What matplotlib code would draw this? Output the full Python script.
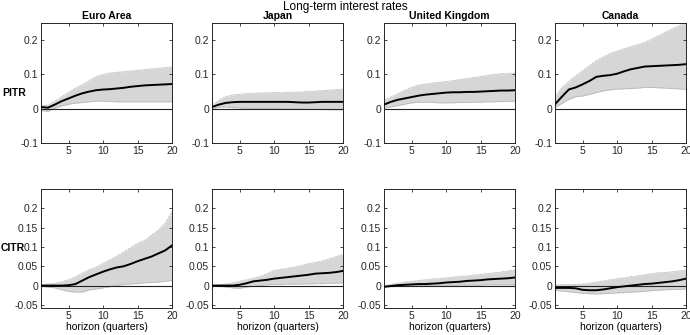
import numpy as np
import matplotlib
matplotlib.use("Agg")
import matplotlib.pyplot as plt

plt.rcParams['font.family'] = ['Liberation Sans', 'DejaVu Sans']
plt.rcParams['axes.unicode_minus'] = False

horizon = list(range(1, 21))
countries = ["Euro Area", "Japan", "United Kingdom", "Canada"]
rows = ["PITR", "CITR"]
suptitle = "Long-term interest rates"
xlabel = "horizon (quarters)"

# PITR row
pitr_med = {
    "Euro Area": [0.005,0.003,0.012,0.022,0.030,0.038,0.045,0.050,0.054,0.056,0.057,0.059,0.061,0.064,0.066,0.068,0.069,0.070,0.071,0.072],
    "Japan": [0.005,0.012,0.017,0.019,0.020,0.020,0.020,0.020,0.020,0.020,0.020,0.020,0.019,0.018,0.018,0.019,0.020,0.020,0.020,0.020],
    "United Kingdom": [0.012,0.020,0.026,0.030,0.034,0.038,0.041,0.043,0.045,0.047,0.048,0.048,0.049,0.049,0.050,0.051,0.052,0.053,0.053,0.054],
    "Canada": [0.013,0.035,0.056,0.062,0.071,0.081,0.093,0.096,0.098,0.102,0.109,0.115,0.119,0.123,0.124,0.125,0.126,0.127,0.128,0.130],
}
pitr_up = {
    "Euro Area": [0.010,0.010,0.022,0.035,0.048,0.060,0.070,0.082,0.094,0.100,0.104,0.106,0.108,0.110,0.112,0.114,0.116,0.118,0.120,0.122],
    "Japan": [0.010,0.025,0.035,0.040,0.042,0.044,0.045,0.046,0.046,0.047,0.047,0.048,0.048,0.049,0.050,0.051,0.053,0.054,0.056,0.057],
    "United Kingdom": [0.024,0.034,0.044,0.054,0.062,0.069,0.072,0.075,0.077,0.079,0.082,0.085,0.088,0.091,0.094,0.097,0.100,0.102,0.103,0.104],
    "Canada": [0.035,0.062,0.079,0.096,0.111,0.126,0.140,0.151,0.161,0.168,0.175,0.181,0.187,0.193,0.203,0.213,0.223,0.233,0.242,0.250],
}
pitr_lo = {
    "Euro Area": [-0.005,-0.008,0.002,0.008,0.013,0.016,0.018,0.020,0.022,0.022,0.021,0.020,0.020,0.020,0.020,0.020,0.020,0.020,0.020,0.020],
    "Japan": [0.000,0.004,0.005,0.003,0.002,0.001,0.001,0.000,0.000,0.000,-0.001,-0.001,-0.001,-0.001,-0.002,-0.002,-0.002,-0.003,-0.003,-0.003],
    "United Kingdom": [0.002,0.005,0.009,0.013,0.017,0.019,0.019,0.018,0.017,0.017,0.017,0.018,0.018,0.019,0.019,0.020,0.020,0.021,0.021,0.022],
    "Canada": [0.003,0.015,0.027,0.035,0.037,0.042,0.047,0.052,0.055,0.057,0.058,0.059,0.060,0.062,0.062,0.061,0.060,0.059,0.058,0.056],
}

# CITR row
citr_med = {
    "Euro Area": [0.000,0.000,0.000,0.000,0.001,0.004,0.013,0.022,0.029,0.036,0.042,0.047,0.050,0.056,0.063,0.069,0.075,0.083,0.091,0.104],
    "Japan": [0.000,0.000,0.000,0.000,0.002,0.006,0.011,0.013,0.015,0.018,0.020,0.022,0.024,0.026,0.028,0.031,0.032,0.033,0.035,0.038],
    "United Kingdom": [-0.003,-0.001,0.001,0.002,0.003,0.004,0.004,0.005,0.006,0.008,0.009,0.010,0.012,0.013,0.014,0.016,0.017,0.018,0.019,0.021],
    "Canada": [-0.006,-0.006,-0.006,-0.007,-0.011,-0.012,-0.012,-0.010,-0.007,-0.004,-0.002,0.000,0.002,0.004,0.005,0.007,0.009,0.011,0.014,0.018],
}
citr_up = {
    "Euro Area": [0.002,0.004,0.006,0.010,0.015,0.023,0.032,0.041,0.048,0.057,0.067,0.076,0.087,0.098,0.109,0.117,0.130,0.143,0.161,0.191],
    "Japan": [0.001,0.002,0.004,0.007,0.011,0.015,0.019,0.024,0.031,0.039,0.042,0.045,0.048,0.052,0.057,0.060,0.064,0.069,0.075,0.081],
    "United Kingdom": [0.000,0.003,0.006,0.009,0.011,0.013,0.015,0.017,0.018,0.020,0.022,0.024,0.025,0.027,0.029,0.031,0.033,0.035,0.038,0.040],
    "Canada": [0.002,0.002,0.003,0.003,0.004,0.006,0.009,0.012,0.015,0.018,0.020,0.023,0.025,0.028,0.031,0.033,0.034,0.036,0.038,0.040],
}
citr_lo = {
    "Euro Area": [-0.002,-0.004,-0.006,-0.011,-0.015,-0.017,-0.017,-0.011,-0.009,-0.006,-0.003,0.000,0.003,0.004,0.005,0.007,0.008,0.009,0.011,0.013],
    "Japan": [-0.001,-0.002,-0.004,-0.006,-0.007,-0.004,-0.002,0.000,0.002,0.003,0.003,0.004,0.004,0.004,0.004,0.005,0.005,0.006,0.006,0.007],
    "United Kingdom": [-0.004,-0.003,-0.002,-0.001,-0.001,0.000,0.000,0.001,0.001,0.001,0.001,0.001,0.001,0.001,0.001,0.002,0.002,0.002,0.002,0.002],
    "Canada": [-0.013,-0.014,-0.016,-0.018,-0.020,-0.021,-0.022,-0.021,-0.020,-0.019,-0.018,-0.017,-0.016,-0.015,-0.013,-0.012,-0.011,-0.010,-0.010,-0.009],
}

top_yticks = [-0.1, 0, 0.1, 0.2]
top_ylabels = ["-0.1", "0", "0.1", "0.2"]
bot_yticks = [-0.05, 0, 0.05, 0.1, 0.15, 0.2]
bot_ylabels = ["-0.05", "0", "0.05", "0.1", "0.15", "0.2"]
xticks = [5, 10, 15, 20]

W, H = 690, 335
fig = plt.figure(figsize=(W / 100, H / 100), dpi=100)
lefts = [41, 212, 384, 555]
aw = 131
row_geo = [(23, 143), (189, 308)]

data = [(pitr_med, pitr_up, pitr_lo), (citr_med, citr_up, citr_lo)]
for r in range(2):
    med, up, lo = data[r]
    top, bot = row_geo[r]
    for c, name in enumerate(countries):
        ax = fig.add_axes([lefts[c] / W, 1 - bot / H, aw / W, (bot - top) / H])
        x = np.array(horizon)
        ax.fill_between(x, lo[name], up[name], color="#d6d6d6", lw=0, zorder=1)
        ax.plot(x, up[name], color="#9a9a9a", lw=0.6, ls=(0, (1, 1)), zorder=2)
        ax.plot(x, lo[name], color="#9a9a9a", lw=0.6, ls=(0, (1, 1)), zorder=2)
        ax.axhline(0, color="#222222", lw=0.8, zorder=3)
        ax.plot(x, med[name], color="black", lw=1.4, zorder=4)
        ax.set_xlim(1, 20)
        ax.set_xticks(xticks)
        if r == 0:
            ax.set_ylim(-0.1, 0.25)
            ax.set_yticks(top_yticks)
            ax.set_yticklabels(top_ylabels)
            ax.set_title(name, fontsize=7.5, fontweight="bold", pad=3)
        else:
            ax.set_ylim(-0.058, 0.25)
            ax.set_yticks(bot_yticks)
            ax.set_yticklabels(bot_ylabels)
            ax.set_xlabel(xlabel, fontsize=7.5, labelpad=1)
        ax.tick_params(direction="in", top=True, right=True, length=2.5, width=0.6,
                       labelsize=7.5, pad=2, colors="#262626")
        for s in ax.spines.values():
            s.set_linewidth(0.7)
            s.set_color("#262626")

fig.text(345 / W, 1 - 7 / H, suptitle, ha="center", va="center", fontsize=8.5)
fig.text(2 / W, 1 - 93 / H, rows[0], ha="left", va="center", fontsize=7.5, fontweight="bold")
fig.text(1 / W, 1 - 248 / H, rows[1], ha="left", va="center", fontsize=7.5, fontweight="bold")

fig.savefig("out.png", dpi=100)
